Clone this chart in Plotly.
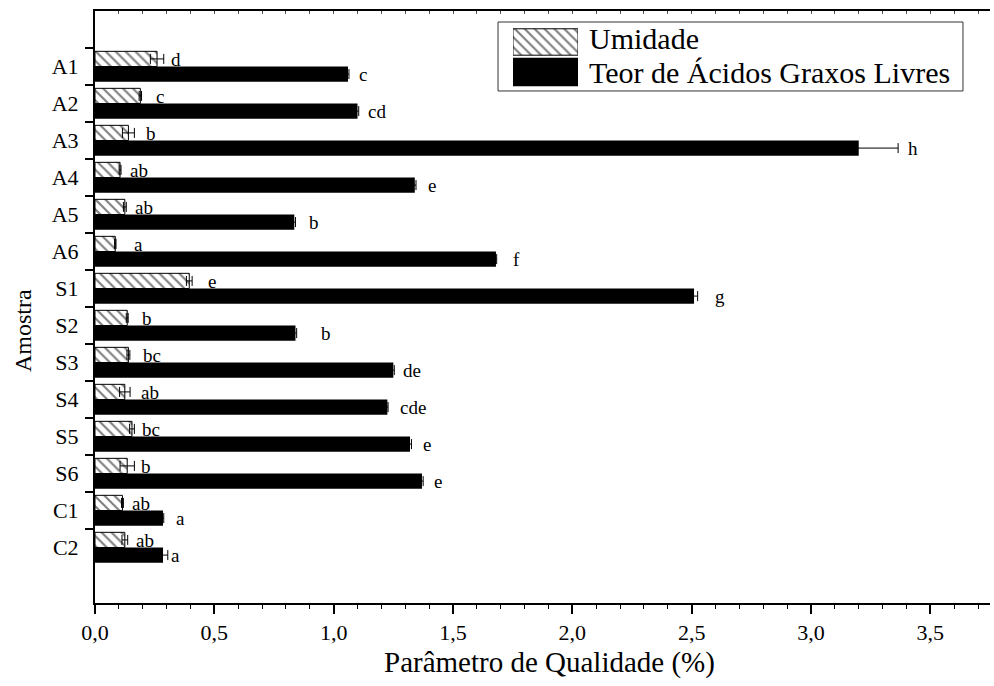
import plotly.graph_objects as go

amostras = ["A1", "A2", "A3", "A4", "A5", "A6", "S1", "S2", "S3", "S4", "S5", "S6", "C1", "C2"]

umidade = [0.26, 0.19, 0.14, 0.105, 0.125, 0.085, 0.395, 0.135, 0.14, 0.125, 0.155, 0.135, 0.115, 0.125]
umidade_err = [0.028, 0.005, 0.025, 0.004, 0.006, 0.003, 0.012, 0.004, 0.006, 0.022, 0.010, 0.030, 0.004, 0.012]
umidade_letras = ["d", "c", "b", "ab", "ab", "a", "e", "b", "bc", "ab", "bc", "b", "ab", "ab"]

agl = [1.06, 1.10, 3.20, 1.34, 0.835, 1.68, 2.51, 0.84, 1.25, 1.225, 1.32, 1.37, 0.285, 0.285]
agl_err = [0.004, 0.005, 0.165, 0.005, 0.005, 0.003, 0.015, 0.005, 0.004, 0.003, 0.006, 0.005, 0.003, 0.020]
agl_letras = ["c", "cd", "h", "e", "b", "f", "g", "b", "de", "cde", "e", "e", "a", "a"]

x_ticks = [0.0, 0.5, 1.0, 1.5, 2.0, 2.5, 3.0, 3.5]

# label gaps (pixels) after the end of each bar/error bar (style only)
gap_u = [5, 12, 10, 7, 7, 16, 14, 12, 11, 9, 6, 5, 7, 6]
gap_a = [8, 7, 8, 10, 12, 14, 15, 22, 7, 10, 10, 9, 10, 1]

FONT = "Liberation Serif, Times New Roman, serif"
HATCH = dict(shape="\\", size=7, solidity=0.3, fgcolor="black", bgcolor="white")
fig = go.Figure()

fig.add_trace(go.Bar(
    y=amostras, x=umidade, orientation="h", name="Umidade",
    marker=dict(color="white", line=dict(color="black", width=1), pattern=HATCH),
    error_x=dict(type="data", array=umidade_err, color="black", thickness=1, width=5),
    showlegend=False,
))
fig.add_trace(go.Bar(
    y=amostras, x=agl, orientation="h", name="Teor de Ácidos Graxos Livres",
    marker=dict(color="black", line=dict(color="black", width=0)),
    error_x=dict(type="data", array=agl_err, color="black", thickness=1, width=5),
    showlegend=False,
))

annotations = []
for i, a in enumerate(amostras):
    annotations.append(dict(x=umidade[i] + umidade_err[i], y=a, xref="x", yref="y",
                            text=umidade_letras[i], showarrow=False, xanchor="left",
                            xshift=gap_u[i], yshift=7.5,
                            font=dict(family=FONT, size=19, color="black")))
    annotations.append(dict(x=agl[i] + agl_err[i], y=a, xref="x", yref="y",
                            text=agl_letras[i], showarrow=False, xanchor="left",
                            xshift=gap_a[i], yshift=-7.5,
                            font=dict(family=FONT, size=19, color="black")))

# axis titles
annotations.append(dict(text="Parâmetro de Qualidade (%)", xref="paper", yref="paper",
                        x=0.508, y=-0.101, showarrow=False, xanchor="center", yanchor="middle",
                        font=dict(family=FONT, size=29, color="black")))
annotations.append(dict(text="Amostra", xref="paper", yref="paper", textangle=-90,
                        x=-0.0804, y=0.4595, showarrow=False, xanchor="center", yanchor="middle",
                        font=dict(family=FONT, size=24, color="black")))

# legend (inset)
fig.add_trace(go.Bar(y=[0], x=[1], orientation="h", xaxis="x3", yaxis="y3", width=0.88,
                     marker=dict(color="white", line=dict(color="black", width=1), pattern=HATCH),
                     showlegend=False, hoverinfo="skip"))
fig.add_trace(go.Bar(y=[1], x=[1], orientation="h", xaxis="x3", yaxis="y3", width=0.95,
                     marker=dict(color="black", line=dict(width=0)),
                     showlegend=False, hoverinfo="skip"))
annotations.append(dict(text="Umidade", xref="paper", yref="paper", x=0.5497, y=0.954,
                        xanchor="left", yanchor="middle", showarrow=False,
                        font=dict(family=FONT, size=30, color="black")))
annotations.append(dict(text="Teor de Ácidos Graxos Livres", xref="paper", yref="paper",
                        x=0.5497, y=0.8953, xanchor="left", yanchor="middle", showarrow=False,
                        font=dict(family=FONT, size=30, color="black")))

fig.update_layout(
    width=994, height=686,
    margin=dict(l=95, r=4, t=11, b=83),
    paper_bgcolor="white", plot_bgcolor="white",
    barmode="group", bargap=0.18, bargroupgap=0,
    separators=",.",
    font=dict(family=FONT, size=21, color="black"),
    annotations=annotations,
    shapes=[dict(type="rect", xref="paper", yref="paper", x0=0.4503, x1=0.9698, y0=0.8649, y1=0.9814,
                 line=dict(color="#333333", width=1), fillcolor="rgba(0,0,0,0)")],
    xaxis=dict(range=[0, 3.75], tickvals=x_ticks, tickformat=".1f",
               showline=True, linecolor="black", linewidth=2,
               ticks="outside", ticklen=9, tickwidth=2, tickcolor="black",
               minor=dict(dtick=0.1, ticks="outside", ticklen=4, tickwidth=1, tickcolor="black"),
               showgrid=False, zeroline=False, anchor="y",
               tickfont=dict(family=FONT, size=22, color="black")),
    xaxis2=dict(matches="x", overlaying="x", side="top", anchor="y",
                showline=True, linecolor="black", linewidth=2, showticklabels=False,
                ticks="inside", ticklen=3, tickwidth=1, tickcolor="#555555", dtick=0.1,
                showgrid=False, zeroline=False),
    yaxis=dict(type="category", categoryorder="array", categoryarray=amostras,
               range=[14.5, -1.5], tickson="boundaries",
               showline=True, linecolor="black", linewidth=2,
               ticks="outside", ticklen=8, tickwidth=2, tickcolor="black",
               ticklabelstandoff=10,
               showgrid=False, zeroline=False,
               tickfont=dict(family=FONT, size=22, color="black")),
    xaxis3=dict(domain=[0.467, 0.5397], range=[0, 1], visible=False, anchor="y3", fixedrange=True),
    yaxis3=dict(domain=[0.8716, 0.973], range=[1.5, -0.5], visible=False, anchor="x3", fixedrange=True),
)

fig.add_trace(go.Scatter(x=[0], y=["A1"], xaxis="x2", yaxis="y", mode="markers",
                         marker=dict(opacity=0), showlegend=False, hoverinfo="skip"))

fig.write_html("out.html")
